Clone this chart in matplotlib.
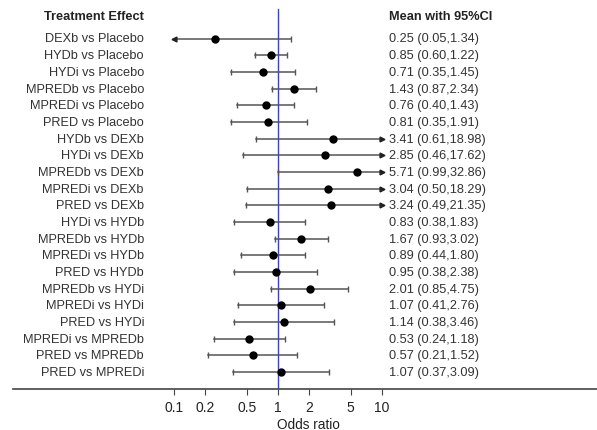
import matplotlib
matplotlib.use("Agg")
import matplotlib.pyplot as plt
import matplotlib.transforms as mtransforms
import numpy as np

plt.rcParams['font.family'] = ['Liberation Sans', 'DejaVu Sans']

comparisons = [
    "DEXb vs Placebo", "HYDb vs Placebo", "HYDi vs Placebo", "MPREDb vs Placebo",
    "MPREDi vs Placebo", "PRED vs Placebo", "HYDb vs DEXb", "HYDi vs DEXb",
    "MPREDb vs DEXb", "MPREDi vs DEXb", "PRED vs DEXb", "HYDi vs HYDb",
    "MPREDb vs HYDb", "MPREDi vs HYDb", "PRED vs HYDb", "MPREDb vs HYDi",
    "MPREDi vs HYDi", "PRED vs HYDi", "MPREDi vs MPREDb", "PRED vs MPREDb",
    "PRED vs MPREDi",
]
means = [0.25, 0.85, 0.71, 1.43, 0.76, 0.81, 3.41, 2.85, 5.71, 3.04, 3.24,
         0.83, 1.67, 0.89, 0.95, 2.01, 1.07, 1.14, 0.53, 0.57, 1.07]
lowers = [0.05, 0.60, 0.35, 0.87, 0.40, 0.35, 0.61, 0.46, 0.99, 0.50, 0.49,
          0.38, 0.93, 0.44, 0.38, 0.85, 0.41, 0.38, 0.24, 0.21, 0.37]
uppers = [1.34, 1.22, 1.45, 2.34, 1.43, 1.91, 18.98, 17.62, 32.86, 18.29, 21.35,
          1.83, 3.02, 1.80, 2.38, 4.75, 2.76, 3.46, 1.18, 1.52, 3.09]
ci_labels = [
    "0.25 (0.05,1.34)", "0.85 (0.60,1.22)", "0.71 (0.35,1.45)", "1.43 (0.87,2.34)",
    "0.76 (0.40,1.43)", "0.81 (0.35,1.91)", "3.41 (0.61,18.98)", "2.85 (0.46,17.62)",
    "5.71 (0.99,32.86)", "3.04 (0.50,18.29)", "3.24 (0.49,21.35)", "0.83 (0.38,1.83)",
    "1.67 (0.93,3.02)", "0.89 (0.44,1.80)", "0.95 (0.38,2.38)", "2.01 (0.85,4.75)",
    "1.07 (0.41,2.76)", "1.14 (0.38,3.46)", "0.53 (0.24,1.18)", "0.57 (0.21,1.52)",
    "1.07 (0.37,3.09)",
]
tick_vals = [0.1, 0.2, 0.5, 1, 2, 5, 10]
tick_labels = ["0.1", "0.2", "0.5", "1", "2", "5", "10"]
clip_lo, clip_hi = 0.1, 10

W, H = 597, 431
fig = plt.figure(figsize=(W / 100, H / 100), dpi=100)

ax_left_px, ax_right_px = 13, 597
ax_top_px, ax_bot_px = 5, 390
ax = fig.add_axes([ax_left_px / W, 1 - ax_bot_px / H,
                   (ax_right_px - ax_left_px) / W, (ax_bot_px - ax_top_px) / H])

dec = 104.0
one_px = 278.0
xmin = 10 ** (-(one_px - ax_left_px) / dec)
xmax = 10 ** ((ax_right_px - one_px) / dec)
ax.set_xscale('log')
ax.set_xlim(xmin, xmax)

row0_px, row_step = 39.5, 16.68
ax.set_ylim(-(ax_bot_px - row0_px) / row_step, -(ax_top_px - row0_px) / row_step)

n = len(comparisons)
ys = -np.arange(n)

line_col = '#555555'
for i in range(n):
    y = ys[i]
    lo, hi, m = lowers[i], uppers[i], means[i]
    lo_c = max(lo, clip_lo)
    hi_c = min(hi, clip_hi)
    ax.plot([lo_c, hi_c], [y, y], color=line_col, lw=1.1, zorder=2)
    if lo < clip_lo:
        ax.plot([lo_c], [y], marker='<', color='#222222', ms=3.5, zorder=3)
    else:
        ax.plot([lo_c], [y], marker='|', color=line_col, ms=5, mew=1.0, zorder=3)
    if hi > clip_hi:
        ax.plot([hi_c], [y], marker='>', color='#222222', ms=3.5, zorder=3)
    else:
        ax.plot([hi_c], [y], marker='|', color=line_col, ms=5, mew=1.0, zorder=3)
    ax.plot([m], [y], marker='o', color='black', ms=5, zorder=4)

ax.axvline(1, ymin=0, ymax=(ax_bot_px - 10) / (ax_bot_px - ax_top_px),
           color='#4040b8', lw=1.0, zorder=1)

for s in ['top', 'right', 'left']:
    ax.spines[s].set_visible(False)
ax.spines['bottom'].set_color('#444444')
ax.spines['bottom'].set_linewidth(1.2)
ax.set_yticks([])
ax.set_xticks(tick_vals)
ax.set_xticklabels(tick_labels)
ax.xaxis.set_minor_locator(matplotlib.ticker.NullLocator())
ax.tick_params(axis='x', direction='out', length=4, width=0.8, color='#444444',
               labelsize=10, pad=4, labelcolor='#222222')
ax.set_xlabel("Odds ratio", fontsize=9.8, color='#222222')
ax.xaxis.set_label_coords((308 - ax_left_px) / (ax_right_px - ax_left_px),
                          -(425 - ax_bot_px) / (ax_bot_px - ax_top_px))
ax.xaxis.label.set_va('center')

trans = mtransforms.blended_transform_factory(fig.transFigure, ax.transData)
fs = 9.2
header_y = -(17 - row0_px) / row_step
fig.text(144 / W, header_y, "Treatment Effect", transform=trans, ha='right',
         va='center', fontsize=fs, fontweight='bold', color='#222222')
fig.text(389 / W, header_y, "Mean with 95%CI", transform=trans, ha='left',
         va='center', fontsize=fs, fontweight='bold', color='#222222')
for i in range(n):
    fig.text(144 / W, ys[i], comparisons[i], transform=trans, ha='right',
             va='center', fontsize=fs, color='#333333')
    fig.text(389 / W, ys[i], ci_labels[i], transform=trans, ha='left',
             va='center', fontsize=fs, color='#333333')

fig.savefig("out.png", dpi=100)
